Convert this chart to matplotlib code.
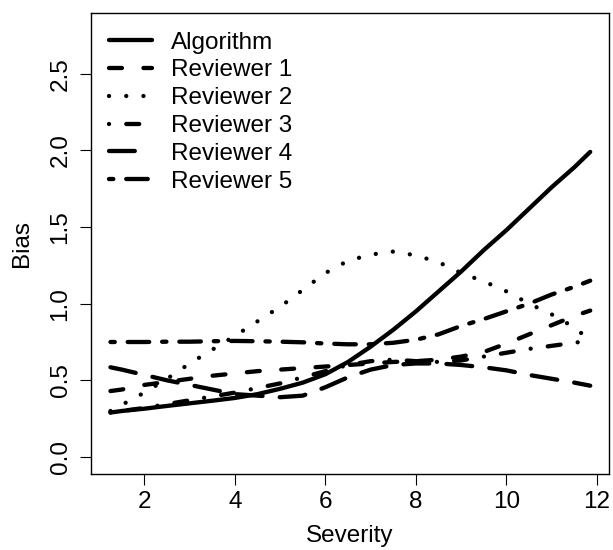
import numpy as np
import matplotlib
matplotlib.use("Agg")
import matplotlib.pyplot as plt

plt.rcParams['font.family'] = ['Liberation Sans', 'DejaVu Sans']

severity = [1.25, 1.5, 2.0, 2.5, 3.0, 3.5, 4.0, 4.5, 5.0, 5.5, 6.0, 6.5,
            7.0, 7.5, 8.0, 8.5, 9.0, 9.5, 10.0, 10.5, 11.0, 11.5, 11.85]

algorithm = [0.29, 0.30, 0.315, 0.333, 0.35, 0.367, 0.385, 0.41, 0.445, 0.485, 0.54, 0.62,
             0.72, 0.83, 0.95, 1.08, 1.21, 1.35, 1.48, 1.62, 1.76, 1.89, 1.99]
reviewer1 = [0.43, 0.44, 0.47, 0.49, 0.51, 0.53, 0.545, 0.56, 0.57, 0.58, 0.59, 0.60,
             0.61, 0.62, 0.625, 0.635, 0.655, 0.685, 0.74, 0.80, 0.86, 0.92, 0.955]
reviewer2 = [0.30, 0.34, 0.42, 0.51, 0.61, 0.70, 0.79, 0.885, 0.98, 1.09, 1.20, 1.28,
             1.32, 1.34, 1.315, 1.27, 1.20, 1.145, 1.08, 1.00, 0.93, 0.845, 0.76]
reviewer3 = [0.29, 0.30, 0.32, 0.345, 0.37, 0.395, 0.42, 0.45, 0.48, 0.52, 0.56, 0.60,
             0.625, 0.635, 0.625, 0.62, 0.63, 0.655, 0.68, 0.705, 0.725, 0.745, 0.76]
reviewer4 = [0.585, 0.57, 0.535, 0.50, 0.47, 0.44, 0.41, 0.40, 0.39, 0.40, 0.455, 0.52,
             0.57, 0.60, 0.61, 0.61, 0.60, 0.585, 0.565, 0.535, 0.51, 0.485, 0.465]
reviewer5 = [0.75, 0.75, 0.75, 0.752, 0.752, 0.755, 0.757, 0.755, 0.752, 0.748, 0.74, 0.735,
             0.735, 0.745, 0.765, 0.80, 0.855, 0.90, 0.95, 1.00, 1.06, 1.11, 1.15]

labels = ["Algorithm", "Reviewer 1", "Reviewer 2", "Reviewer 3", "Reviewer 4", "Reviewer 5"]
series = [algorithm, reviewer1, reviewer2, reviewer3, reviewer4, reviewer5]
# R lty patterns (44, 13, 1343, 73, 2262), shortened by one unit for round caps
patterns = [None, (3, 5), (0.01, 3.99), (0.01, 4, 3, 4), (6, 4), (1, 3, 5, 3)]

xticks = [2, 4, 6, 8, 10, 12]
yticks = [0.0, 0.5, 1.0, 1.5, 2.0, 2.5]

fig = plt.figure(figsize=(6.13, 5.5), dpi=100)
ax = fig.add_axes((91 / 613, 1 - 474 / 550, 518 / 613, (474 - 13.3) / 550))

fs = 17.5
for ys, lab, pat in zip(series, labels, patterns):
    line, = ax.plot(severity, ys, color='black', lw=3.1, label=lab,
                    solid_capstyle='round', solid_joinstyle='round',
                    dash_capstyle='round')
    if pat is not None:
        line.set_dashes(pat)

ax.set_xlim(0.82, 12.265)
ax.set_ylim(-0.111, 2.894)
ax.set_xticks(xticks)
ax.set_xticklabels([str(t) for t in xticks])
ax.set_yticks(yticks)
ax.set_yticklabels(["%.1f" % t for t in yticks], rotation=90, va='center')
ax.tick_params(direction='out', length=8, width=0.8, labelsize=fs, pad=4)
ax.tick_params(axis='y', pad=6)
for sp in ax.spines.values():
    sp.set_linewidth(1.0)

ax.set_xlabel("Severity", fontsize=fs, labelpad=9)
ax.set_ylabel("Bias", fontsize=fs, labelpad=12)

ax.legend(loc='upper left', frameon=False, fontsize=fs, handlelength=1.76,
          handletextpad=0.8, labelspacing=0.24, borderaxespad=0.3, borderpad=0.45)

fig.savefig("out.png", dpi=100)
